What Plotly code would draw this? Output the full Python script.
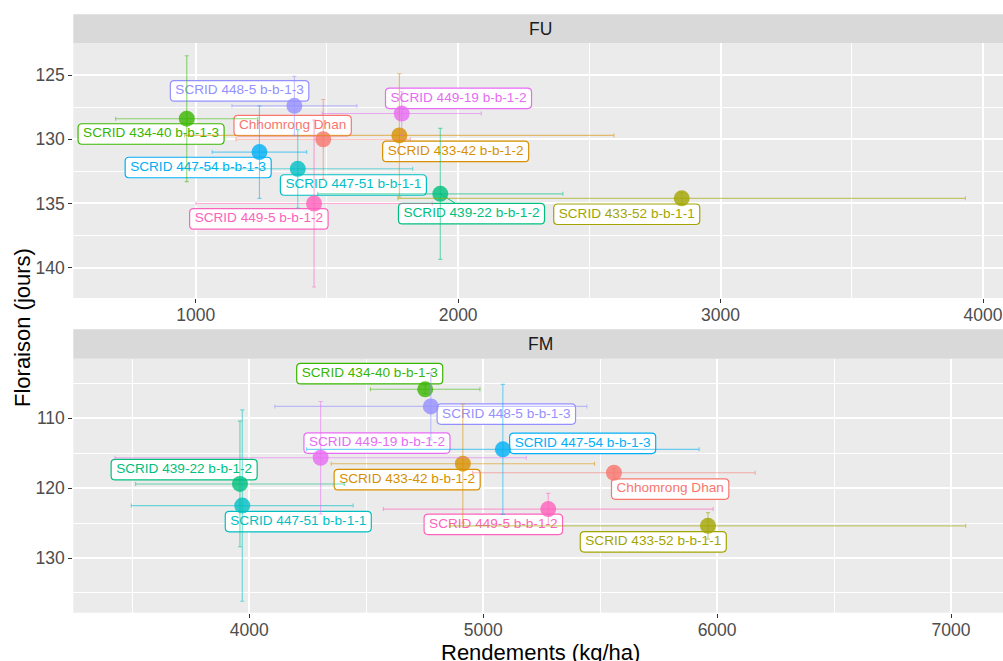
import plotly.graph_objects as go

W, H = 1003, 661

# Genotypes (alphabetical, as in the legend order) and the default hue palette
genotypes = [
    "Chhomrong Dhan",
    "SCRID 433-42 b-b-1-2",
    "SCRID 433-52 b-b-1-1",
    "SCRID 434-40 b-b-1-3",
    "SCRID 439-22 b-b-1-2",
    "SCRID 447-51 b-b-1-1",
    "SCRID 447-54 b-b-1-3",
    "SCRID 448-5 b-b-1-3",
    "SCRID 449-19 b-b-1-2",
    "SCRID 449-5 b-b-1-2",
]
palette = ["#F8766D", "#D89000", "#A3A500", "#39B600", "#00BF7D",
           "#00BFC4", "#00B0F6", "#9590FF", "#E76BF3", "#FF62BC"]

# FU: yield (kg/ha) and flowering (days), means and error half-widths
rend_fu = [1486, 1776, 2852, 966, 1932, 1389, 1243, 1376, 1785, 1451]
rend_fu_err = [332, 818, 1081, 271, 467, 438, 180, 238, 303, 450]
flor_fu = [130.0, 129.7, 134.6, 128.4, 134.25, 132.3, 131.0, 127.4, 128.0, 135.0]
flor_fu_err = [3.1, 4.8, 0.45, 4.9, 5.1, 3.05, 3.6, 2.3, 1.7, 6.5]

# FM
rend_fm = [5559, 4913, 5961, 4752, 3960, 3970, 5084, 4776, 4305, 5278]
rend_fm_err = [604, 563, 1102, 234, 446, 474, 839, 667, 879, 705]
flor_fm = [117.8, 116.5, 125.4, 105.85, 119.4, 122.5, 114.45, 108.3, 115.65, 123.0]
flor_fm_err = [0.6, 8.5, 1.9, 0.6, 9.0, 13.7, 9.3, 4.8, 8.05, 2.25]

# Tick values
x_ticks_fu = [1000, 2000, 3000, 4000]
y_ticks_fu = [125, 130, 135, 140]
x_ticks_fm = [4000, 5000, 6000, 7000]
y_ticks_fm = [110, 120, 130]

# Repelled label placement: offset of the label centre from its point, in px
label_dx_fu = [-30.6, 56.3, -55.0, -35.7, 31.2, 55.6, -61.3, -54.8, 56.8, -55.2]
label_dy_fu = [-13.7, 16.0, 15.9, 15.3, 19.8, 16.2, 15.4, -14.9, -15.2, 15.5]
label_dx_fm = [56.2, -55.7, -54.7, -55.5, -55.8, 56.0, 79.8, 75.5, 56.3, -54.9]
label_dy_fm = [16.3, 16.0, 16.0, -15.6, -14.3, 16.0, -6.0, 7.7, -14.7, 15.2]

FONT = "Liberation Sans, Arial, sans-serif"
LABEL_SIZE = 13.6
LABEL_PAD = 5
LABEL_H = 20.5
LABEL_R = 4

# Arial / Liberation Sans advance widths (per 1000 em)
CHAR_W = {" ": 278, "-": 333, "S": 667, "C": 722, "R": 722, "I": 278, "D": 722,
          "b": 556, "h": 556, "o": 556, "m": 833, "r": 333, "n": 556, "g": 556,
          "a": 556}


def text_width(s, size):
    return sum(CHAR_W.get(c, 556) for c in s) * size / 1000.0


def rgba(hex_color, a):
    h = hex_color.lstrip("#")
    r, g, b = int(h[0:2], 16), int(h[2:4], 16), int(h[4:6], 16)
    return f"rgba({r},{g},{b},{a})"


x_dom = [73.3 / W, 1.0]
panels = [
    dict(title="FU", xa="x", ya="y", xkey="xaxis", ykey="yaxis",
         rend=rend_fu, rend_err=rend_fu_err, flor=flor_fu, flor_err=flor_fu_err,
         dx=label_dx_fu, dy=label_dy_fu,
         xr=[533.6, 4076.2], yr=[142.36, 122.53],
         ydom=[(H - 298.0) / H, (H - 43.3) / H],
         strip=[(H - 43.3) / H, (H - 14.3) / H],
         xt=x_ticks_fu, yt=y_ticks_fu, xminor=500, yminor=2.5),
    dict(title="FM", xa="x2", ya="y2", xkey="xaxis2", ykey="yaxis2",
         rend=rend_fm, rend_err=rend_fm_err, flor=flor_fm, flor_err=flor_fm_err,
         dx=label_dx_fm, dy=label_dy_fm,
         xr=[3247.5, 7222.3], yr=[137.83, 101.47],
         ydom=[(H - 612.7) / H, (H - 358.7) / H],
         strip=[(H - 358.7) / H, (H - 329.3) / H],
         xt=x_ticks_fm, yt=y_ticks_fm, xminor=500, yminor=5),
]

fig = go.Figure()
shapes = []
annotations = []
layout_axes = {}

for p in panels:
    kx = (x_dom[1] - x_dom[0]) * W / (p["xr"][1] - p["xr"][0])
    ky = (p["ydom"][1] - p["ydom"][0]) * H / (p["yr"][0] - p["yr"][1])

    cxs, cys = [], []
    seg_traces = []
    for i, name in enumerate(genotypes):
        x, y = p["rend"][i], p["flor"][i]
        dx, dy = p["dx"][i], p["dy"][i]
        cx = x + dx / kx
        cy = y + dy / ky
        cxs.append(cx)
        cys.append(cy)
        hw = (text_width(name, LABEL_SIZE) + 2 * LABEL_PAD) / 2.0
        hh = LABEL_H / 2.0
        x0, x1 = cx - hw / kx, cx + hw / kx
        y0, y1 = cy - hh / ky, cy + hh / ky
        rx, ry = LABEL_R / kx, LABEL_R / ky
        path = (f"M {x0 + rx},{y0} L {x1 - rx},{y0} Q {x1},{y0} {x1},{y0 + ry} "
                f"L {x1},{y1 - ry} Q {x1},{y1} {x1 - rx},{y1} "
                f"L {x0 + rx},{y1} Q {x0},{y1} {x0},{y1 - ry} "
                f"L {x0},{y0 + ry} Q {x0},{y0} {x0 + rx},{y0} Z")
        shapes.append(dict(type="path", path=path, xref=p["xa"], yref=p["ya"],
                           fillcolor="white", line=dict(color=palette[i], width=1.2),
                           layer="between"))
        # leader segment when the label sits clearly away from its point
        gap = ((max(abs(dx) - hw, 0)) ** 2 + (max(abs(dy) - hh, 0)) ** 2) ** 0.5
        if gap > 8:
            s = min(hw / abs(dx) if dx else 1e9, hh / abs(dy) if dy else 1e9)
            ex, ey = dx * (1 - s), dy * (1 - s)
            seg_traces.append(go.Scatter(
                x=[x, x + ex / kx], y=[y, y + ey / ky], mode="lines",
                line=dict(color=palette[i], width=1), xaxis=p["xa"], yaxis=p["ya"],
                hoverinfo="skip", showlegend=False))

    # label text
    fig.add_trace(go.Scatter(
        x=cxs, y=cys, text=genotypes, mode="text", textposition="middle center",
        textfont=dict(family=FONT, size=LABEL_SIZE, color=palette),
        xaxis=p["xa"], yaxis=p["ya"], hoverinfo="skip", showlegend=False))
    for t in seg_traces:
        fig.add_trace(t)

    # points
    fig.add_trace(go.Scatter(
        x=p["rend"], y=p["flor"], mode="markers",
        marker=dict(size=16, color=[rgba(c, 0.8) for c in palette], line=dict(width=0)),
        xaxis=p["xa"], yaxis=p["ya"], hoverinfo="skip", showlegend=False))

    # error bars in both directions
    for i, name in enumerate(genotypes):
        fig.add_trace(go.Scatter(
            x=[p["rend"][i]], y=[p["flor"][i]], mode="markers",
            marker=dict(size=1, color="rgba(0,0,0,0)"),
            error_x=dict(type="data", array=[p["rend_err"][i]], color=rgba(palette[i], 0.55),
                         thickness=1.1, width=2),
            error_y=dict(type="data", array=[p["flor_err"][i]], color=rgba(palette[i], 0.55),
                         thickness=1.1, width=2),
            xaxis=p["xa"], yaxis=p["ya"], hoverinfo="skip", showlegend=False))

    # facet strip
    shapes.append(dict(type="rect", xref="paper", yref="paper",
                       x0=x_dom[0], x1=x_dom[1], y0=p["strip"][0], y1=p["strip"][1],
                       fillcolor="#D9D9D9", line=dict(width=0), layer="below"))
    annotations.append(dict(text=p["title"], xref="paper", yref="paper",
                            x=(x_dom[0] + x_dom[1]) / 2 + 2.0 / W,
                            y=(p["strip"][0] + p["strip"][1]) / 2,
                            xanchor="center", yanchor="middle", showarrow=False,
                            font=dict(family=FONT, size=17.5, color="#1A1A1A")))

    common = dict(showgrid=True, gridcolor="white", gridwidth=1.6, zeroline=False,
                  showline=False, ticks="outside", ticklen=4, tickwidth=1,
                  tickcolor="#333333", tickfont=dict(family=FONT, size=17.5, color="#4D4D4D"))
    layout_axes[p["xkey"]] = dict(
        domain=x_dom, range=p["xr"], anchor=p["ya"], tickvals=p["xt"],
        ticktext=[str(v) for v in p["xt"]], ticklabelstandoff=-3,
        minor=dict(dtick=p["xminor"], tick0=0, showgrid=True, gridcolor="white",
                   gridwidth=0.8, ticks=""),
        **common)
    layout_axes[p["ykey"]] = dict(
        domain=p["ydom"], range=p["yr"], anchor=p["xa"], tickvals=p["yt"],
        ticktext=[str(v) for v in p["yt"]],
        minor=dict(dtick=p["yminor"], tick0=0, showgrid=True, gridcolor="white",
                   gridwidth=0.8, ticks=""),
        **common)

# axis titles
annotations.append(dict(text="Rendements (kg/ha)", xref="paper", yref="paper",
                        x=(x_dom[0] + x_dom[1]) / 2 + 2.0 / W, y=(H - 652.0) / H,
                        xanchor="center", yanchor="middle", showarrow=False,
                        font=dict(family=FONT, size=22, color="black")))
annotations.append(dict(text="Floraison (jours)", xref="paper", yref="paper",
                        x=22.0 / W, y=(H - 328.0) / H, textangle=-90,
                        xanchor="center", yanchor="middle", showarrow=False,
                        font=dict(family=FONT, size=22, color="black")))

fig.update_layout(
    width=W, height=H, margin=dict(l=0, r=0, t=0, b=0),
    paper_bgcolor="white", plot_bgcolor="#EBEBEB",
    shapes=shapes, annotations=annotations, showlegend=False,
    **layout_axes)

fig.write_html("out.html")
